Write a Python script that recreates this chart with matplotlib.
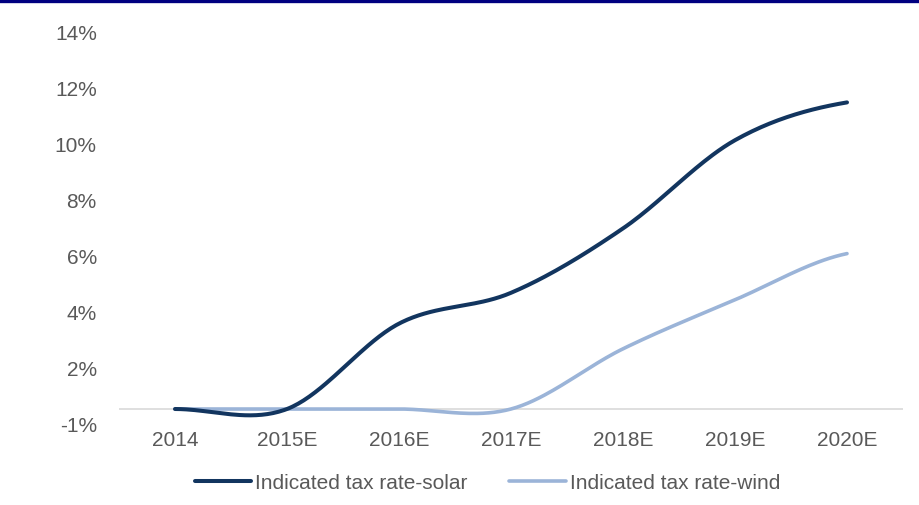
import matplotlib
matplotlib.use('Agg')
import matplotlib.pyplot as plt
from matplotlib.lines import Line2D
import numpy as np

plt.rcParams['font.family'] = ['Liberation Sans', 'DejaVu Sans']

years = ['2014', '2015E', '2016E', '2017E', '2018E', '2019E', '2020E']
solar = [0.5, 0.5, 3.55, 4.65, 6.95, 10.1, 11.45]
wind = [0.5, 0.5, 0.5, 0.5, 2.65, 4.4, 6.05]
y_ticks = [0, 2, 4, 6, 8, 10, 12, 14]
y_labels = ['-1%', '2%', '4%', '6%', '8%', '10%', '12%', '14%']
baseline = 0.5

SOLAR_COLOR = '#12355f'
WIND_COLOR = '#9bb4d8'
TEXT_COLOR = '#595959'
FS = 15


def smooth(values, steps=40):
    # catmull-rom style curve through every point, like a spreadsheet "smoothed line"
    v = np.asarray(values, dtype=float)
    n = len(v)
    tang = np.zeros(n)
    for i in range(n):
        lo = v[max(i - 1, 0)]
        hi = v[min(i + 1, n - 1)]
        tang[i] = (hi - lo) / 2
    xs, ys = [], []
    for i in range(n - 1):
        t = np.linspace(0, 1, steps, endpoint=(i == n - 2))
        h00 = 2 * t**3 - 3 * t**2 + 1
        h10 = t**3 - 2 * t**2 + t
        h01 = -2 * t**3 + 3 * t**2
        h11 = t**3 - t**2
        xs.append(i + t)
        ys.append(h00 * v[i] + h10 * tang[i] + h01 * v[i + 1] + h11 * tang[i + 1])
    return np.concatenate(xs), np.concatenate(ys)


fig = plt.figure(figsize=(9.2, 5.06), dpi=100)
ax = fig.add_axes([119 / 920, 1 - 424 / 506, 784 / 920, 392 / 506])

ax.axhline(baseline, color='#d9d9d9', lw=1.2, zorder=1)

sx, sy = smooth(solar)
wx, wy = smooth(wind)
ax.plot(wx, wy, color=WIND_COLOR, lw=2.6, solid_capstyle='round', zorder=2,
        label='Indicated tax rate-wind')
ax.plot(sx, sy, color=SOLAR_COLOR, lw=2.9, solid_capstyle='round', zorder=3,
        label='Indicated tax rate-solar')

ax.set_xlim(-0.5, len(years) - 0.5)
ax.set_ylim(0, 14)
ax.set_xticks(range(len(years)))
ax.set_xticklabels(years)
ax.set_yticks(y_ticks)
ax.set_yticklabels(y_labels)
ax.tick_params(axis='both', length=0, labelsize=FS, labelcolor=TEXT_COLOR)
ax.tick_params(axis='y', pad=16)
ax.tick_params(axis='x', pad=5)
for s in ax.spines.values():
    s.set_visible(False)

handles, labels = ax.get_legend_handles_labels()
ax.legend(handles[::-1], labels[::-1], loc='center', ncol=2, frameon=False,
          bbox_to_anchor=(487.5 / 920, 1 - 484 / 506), bbox_transform=fig.transFigure,
          fontsize=FS, labelcolor=TEXT_COLOR, handlelength=2.7,
          handletextpad=0.2, columnspacing=2.0)

# navy rule along the top edge
fig.add_artist(Line2D([0, 1], [1 - 1.5 / 506] * 2, transform=fig.transFigure,
                      color='#000080', lw=2.4))

fig.savefig('out.png', dpi=100)
